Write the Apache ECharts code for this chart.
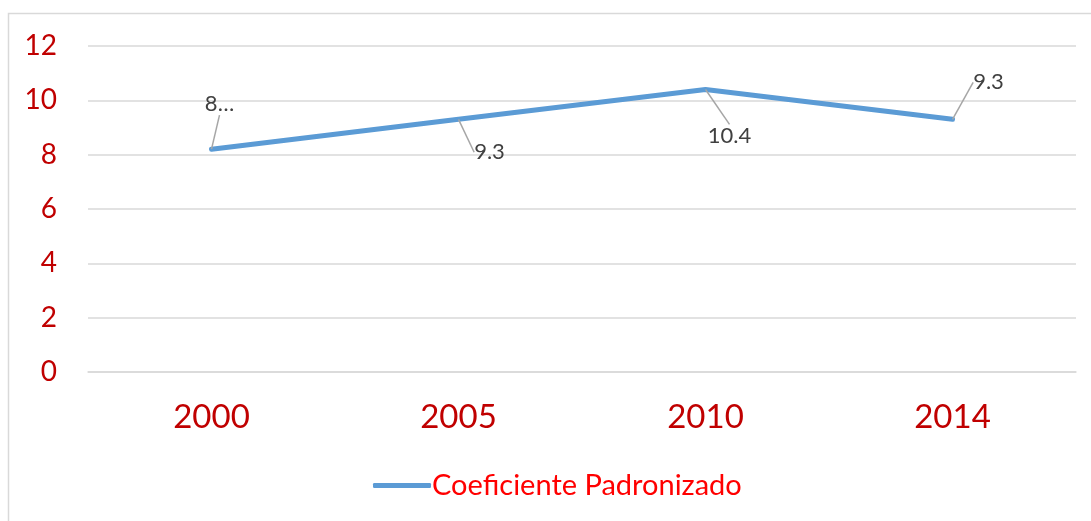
<!DOCTYPE html>
<html>
<head>
<meta charset="utf-8">
<script src="https://cdn.jsdelivr.net/npm/echarts@6/dist/echarts.min.js"></script>
<style>
  html, body { margin: 0; padding: 0; background: #fff; }
  #chart { width: 1091px; height: 521px; }
</style>
</head>
<body>
<div id="chart"></div>
<script>
var categories = ['2000', '2005', '2010', '2014'];
var seriesName = 'Coeficiente Padronizado';
var values = [8.2, 9.3, 10.4, 9.3];
var labelTexts = ['8…', '9.3', '10.4', '9.3'];
var yTicks = { min: 0, max: 12, interval: 2 };

// label offsets (styling only)
var labelOffsets = [[8, -29], [31, 49], [24, 62], [36, -21]];

var chart = echarts.init(document.getElementById('chart'), null, { renderer: 'canvas' });
var font = 'Lato, "Open Sans", sans-serif';

chart.setOption({
  animation: false,
  textStyle: { fontFamily: font },
  graphic: [{
    type: 'rect',
    shape: { x: 8.5, y: 13.5, width: 1200, height: 700 },
    style: { fill: 'none', stroke: '#D9D9D9', lineWidth: 1.5 },
    silent: true,
    z: -1
  }],
  grid: { left: 88, right: 15, top: 46, bottom: 149 },
  legend: {
    left: 368,
    top: 466,
    itemWidth: 58,
    itemHeight: 5,
    itemGap: 10,
    icon: 'roundRect',
    textStyle: { color: '#FF0000', fontSize: 29, fontFamily: font, padding: [0, 0, 0, -4] },
    data: [seriesName]
  },
  xAxis: {
    type: 'category',
    data: categories,
    boundaryGap: true,
    axisLine: { show: true, lineStyle: { color: '#D9D9D9', width: 1.5 } },
    axisTick: { show: false },
    axisLabel: { color: '#C00000', fontSize: 33, margin: 29, fontFamily: font }
  },
  yAxis: {
    type: 'value',
    min: yTicks.min,
    max: yTicks.max,
    interval: yTicks.interval,
    axisLine: { show: false },
    axisTick: { show: false },
    splitLine: { lineStyle: { color: '#D9D9D9', width: 1.5 } },
    axisLabel: { color: '#C00000', fontSize: 28, margin: 31, fontFamily: font }
  },
  series: [{
    name: seriesName,
    type: 'line',
    data: values,
    symbol: 'circle',
    symbolSize: 0.1,
    itemStyle: { color: '#5B9BD5' },
    lineStyle: { color: '#5B9BD5', width: 5, cap: 'round', join: 'round' },
    label: {
      show: true,
      position: 'top',
      color: '#404040',
      fontSize: 22,
      fontFamily: font,
      formatter: function (p) { return labelTexts[p.dataIndex]; }
    },
    labelLine: {
      show: true,
      length2: 0,
      lineStyle: { color: '#A6A6A6', width: 1.5 }
    },
    labelLayout: function (p) {
      var o = labelOffsets[p.dataIndex];
      return { dx: o[0], dy: o[1] };
    }
  }]
});
</script>
</body>
</html>
